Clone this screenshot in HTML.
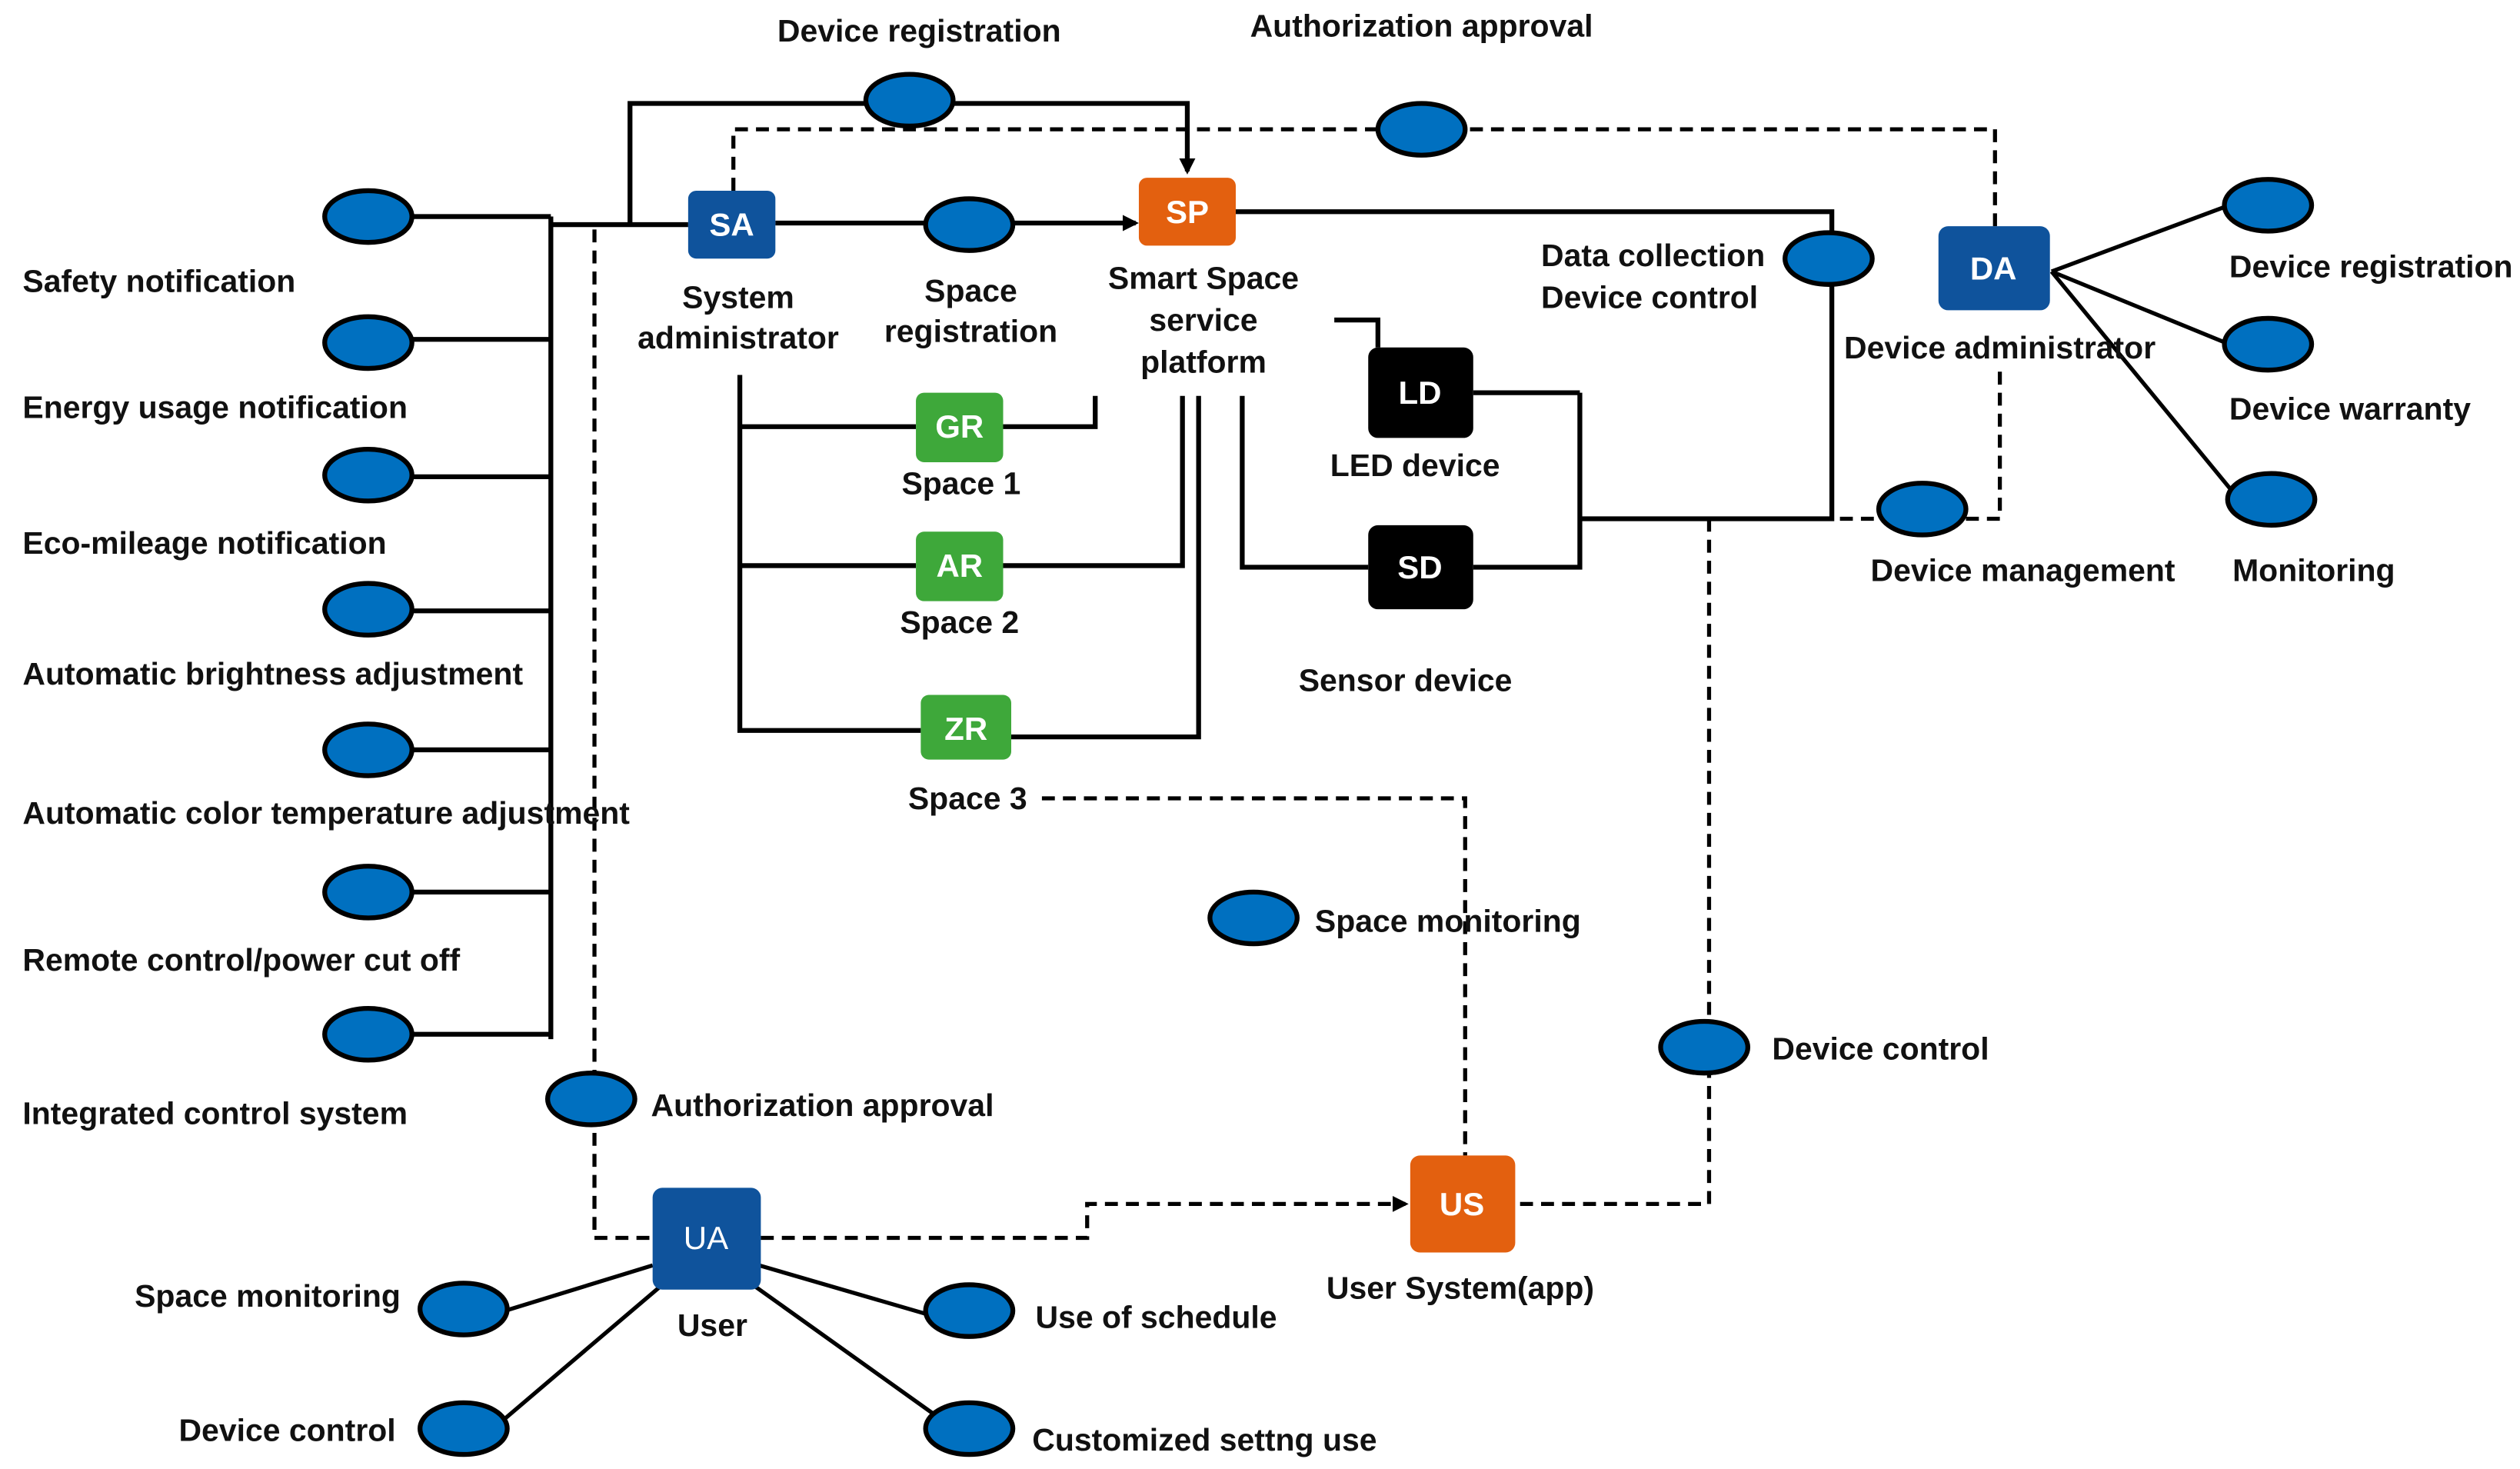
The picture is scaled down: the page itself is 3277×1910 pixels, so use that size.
<!DOCTYPE html>
<html><head><meta charset="utf-8"><style>
html,body{margin:0;padding:0;background:#fff;}
svg{display:block;}
text{font-family:"Liberation Sans",sans-serif;font-weight:bold;font-size:19.5px;fill:#111;dominant-baseline:central;}
.w{fill:#fff;font-size:20px;text-anchor:middle;}
.m{text-anchor:middle;}
.e{text-anchor:end;}
</style></head><body>
<svg width="3277" height="1910" viewBox="0 0 1560 909" preserveAspectRatio="none" xmlns="http://www.w3.org/2000/svg">
<defs><marker id="a" markerWidth="10" markerHeight="10" refX="8" refY="5" orient="auto" markerUnits="userSpaceOnUse"><path d="M0,0 L10,5 L0,10z" fill="#000"/></marker></defs>
<g fill="none" stroke="#000" stroke-width="3">
<!-- left bus -->
<path d="M255,134H341M255,210H341M255,295H341M255,378H341M255,464H341M255,552H341M255,640H341M341,134V643M341,139H426"/>
<path d="M390,139V64H735V106" marker-end="url(#a)"/>
<path d="M480,138H703" marker-end="url(#a)"/>
<path d="M765,131H1134V321H978M978,243H912M978,243V351H912M847,351H769V245M826,198H853V215"/>
<path d="M458,232V452H570M458,264H567M621,264H678V245M458,350H567M621,350H732V245M626,456H742V245"/>
<path stroke-width="2.5" d="M1270,168L1380,127M1270,168L1380,213M1270,168L1386,309"/>
<path stroke-width="2.5" d="M404,783L300,815M410,795L310,880M470,783L580,815M466,795L585,880"/>
</g>
<g fill="none" stroke="#000" stroke-width="2.5" stroke-dasharray="8,5">
<path d="M454,118V80H1235V140"/>
<path d="M1238,230V321H1134"/>
<path d="M1058,321V745H940"/>
<path d="M368,142V766H404"/>
<path d="M471,766H673V745H870" marker-end="url(#a)"/>
<path d="M645,494H907V715"/>
</g>
<g fill="#0070c0" stroke="#000" stroke-width="3">
<ellipse cx="228" cy="134" rx="27" ry="16"/><ellipse cx="228" cy="212" rx="27" ry="16"/>
<ellipse cx="228" cy="294" rx="27" ry="16"/><ellipse cx="228" cy="377" rx="27" ry="16"/>
<ellipse cx="228" cy="464" rx="27" ry="16"/><ellipse cx="228" cy="552" rx="27" ry="16"/>
<ellipse cx="228" cy="640" rx="27" ry="16"/>
<ellipse cx="563" cy="62" rx="27" ry="16"/><ellipse cx="880" cy="80" rx="27" ry="16"/>
<ellipse cx="600" cy="139" rx="27" ry="16"/><ellipse cx="1132" cy="160" rx="27" ry="16"/>
<ellipse cx="1190" cy="315" rx="27" ry="16"/><ellipse cx="1055" cy="648" rx="27" ry="16"/>
<ellipse cx="776" cy="568" rx="27" ry="16"/><ellipse cx="366" cy="680" rx="27" ry="16"/>
<ellipse cx="1404" cy="127" rx="27" ry="16"/><ellipse cx="1404" cy="213" rx="27" ry="16"/>
<ellipse cx="1406" cy="309" rx="27" ry="16"/>
<ellipse cx="287" cy="810" rx="27" ry="16"/><ellipse cx="287" cy="884" rx="27" ry="16"/>
<ellipse cx="600" cy="811" rx="27" ry="16"/><ellipse cx="600" cy="884" rx="27" ry="16"/>
</g>
<rect x="426" y="118" width="54" height="42" rx="5" fill="#0f539c"/><text class="w" x="453" y="139">SA</text>
<rect x="705" y="110" width="60" height="42" rx="5" fill="#e3600f"/><text class="w" x="735" y="131">SP</text>
<rect x="1200" y="140" width="69" height="52" rx="6" fill="#0f539c"/><text class="w" x="1234" y="166">DA</text>
<rect x="847" y="215" width="65" height="56" rx="6" fill="#000"/><text class="w" x="879" y="243">LD</text>
<rect x="847" y="325" width="65" height="52" rx="6" fill="#000"/><text class="w" x="879" y="351">SD</text>
<rect x="567" y="243" width="54" height="43" rx="5" fill="#3ea83a"/><text class="w" x="594" y="264">GR</text>
<rect x="567" y="329" width="54" height="43" rx="5" fill="#3ea83a"/><text class="w" x="594" y="350">AR</text>
<rect x="570" y="430" width="56" height="40" rx="5" fill="#3ea83a"/><text class="w" x="598" y="451">ZR</text>
<rect x="873" y="715" width="65" height="60" rx="6" fill="#e3600f"/><text class="w" x="905" y="745">US</text>
<rect x="404" y="735" width="67" height="63" rx="6" fill="#0f539c"/><text class="w" x="437" y="766" style="font-weight:normal">UA</text>
<text x="14" y="174">Safety notification</text>
<text x="14" y="252">Energy usage notification</text>
<text x="14" y="336">Eco-mileage notification</text>
<text x="14" y="417">Automatic brightness adjustment</text>
<text x="14" y="503">Automatic color temperature adjustment</text>
<text x="14" y="594">Remote control/power cut off</text>
<text x="14" y="689">Integrated control system</text>
<text class="m" x="569" y="19">Device registration</text>
<text class="m" x="880" y="16">Authorization approval</text>
<text class="m" x="457" y="184">System</text><text class="m" x="457" y="209">administrator</text>
<text class="m" x="601" y="180">Space</text><text class="m" x="601" y="205">registration</text>
<text class="m" x="745" y="172">Smart Space</text><text class="m" x="745" y="198">service</text><text class="m" x="745" y="224">platform</text>
<text x="954" y="158">Data collection</text><text x="954" y="184">Device control</text>
<text class="m" x="1238" y="215">Device administrator</text>
<text x="1380" y="165">Device registration</text>
<text x="1380" y="253">Device warranty</text>
<text x="1382" y="353">Monitoring</text>
<text x="1158" y="353">Device management</text>
<text class="m" x="876" y="288">LED device</text>
<text class="m" x="870" y="421">Sensor device</text>
<text class="m" x="595" y="299">Space 1</text>
<text class="m" x="594" y="385">Space 2</text>
<text class="m" x="599" y="494">Space 3</text>
<text x="814" y="570">Space monitoring</text>
<text x="1097" y="649">Device control</text>
<text x="403" y="684">Authorization approval</text>
<text class="m" x="904" y="797">User System(app)</text>
<text class="m" x="441" y="820">User</text>
<text class="e" x="248" y="802">Space monitoring</text>
<text class="e" x="245" y="885">Device control</text>
<text x="641" y="815">Use of schedule</text>
<text x="639" y="891">Customized settng use</text>
</svg>
</body></html>
